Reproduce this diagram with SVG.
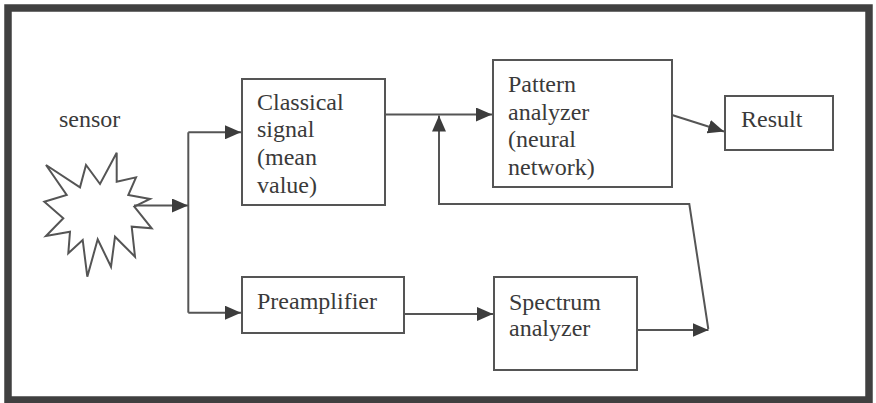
<svg xmlns="http://www.w3.org/2000/svg" width="876" height="403" viewBox="0 0 876 403">
<defs>
<marker id="ah" viewBox="0 0 16 14" refX="16" refY="7" markerWidth="16" markerHeight="14" markerUnits="userSpaceOnUse" orient="auto">
<path d="M0,0 L16,7 L0,14 Z" fill="#3c3c3c"/>
</marker>
</defs>
<style>
.box{fill:#fff;stroke:#555;stroke-width:2}
.t{font-family:"Liberation Serif","Times New Roman",serif;font-size:24px;fill:#3a3a3a}
.c{fill:none;stroke:#555;stroke-width:2}
</style>
<rect x="0" y="0" width="876" height="403" fill="#fff"/>
<rect id="frame" x="8" y="8" width="861" height="392" fill="#fff" stroke="#404040" stroke-width="7.5"/>
<g id="sensor">
<polygon class="box" points="46,165 80,187.3 86,165 100,184 116.7,152.7 116.7,181.7 136,177.3 128.3,195 150,199 134.3,206.7 151.7,228.3 131.7,226.7 135,256.7 115,236.7 111,266.7 97.7,239.3 87.3,276.7 82.7,240 68.3,253.3 70,231.7 46,236 63.3,218.3 44.3,201.7 66.7,195"/>
<text class="t" x="59" y="127">sensor</text>
</g>
<g id="classical">
<rect class="box" x="242" y="79" width="143" height="126"/>
<text class="t" x="257" y="109.5">Classical</text>
<text class="t" x="257" y="137.3">signal</text>
<text class="t" x="257" y="165">(mean</text>
<text class="t" x="257" y="192.7">value)</text>
</g>
<g id="pattern">
<rect class="box" x="493" y="60" width="179" height="127"/>
<text class="t" x="508" y="91.7">Pattern</text>
<text class="t" x="508" y="119.5">analyzer</text>
<text class="t" x="508" y="147.3">(neural</text>
<text class="t" x="508" y="175">network)</text>
</g>
<g id="result">
<rect class="box" x="725" y="96" width="108" height="54"/>
<text class="t" x="741" y="127">Result</text>
</g>
<g id="preamplifier">
<rect class="box" x="242" y="277" width="162" height="56"/>
<text class="t" x="257" y="309">Preamplifier</text>
</g>
<g id="spectrum">
<rect class="box" x="494" y="277" width="143" height="93"/>
<text class="t" x="509" y="310">Spectrum</text>
<text class="t" x="509" y="336">analyzer</text>
</g>
<g id="connectors">
<path class="c" d="M134,205.5 H188" marker-end="url(#ah)"/>
<path class="c" d="M188.3,132.3 V312.7"/>
<path class="c" d="M188.3,132.3 H241" marker-end="url(#ah)"/>
<path class="c" d="M188.3,312.7 H241" marker-end="url(#ah)"/>
<path class="c" d="M385,114.5 H492" marker-end="url(#ah)"/>
<path class="c" d="M672,115 L724,131.5" marker-end="url(#ah)"/>
<path class="c" d="M404,314 H493" marker-end="url(#ah)"/>
<path class="c" d="M637,330 H708.5" marker-end="url(#ah)"/>
<path class="c" d="M708.3,329 L689.3,204 H439 V115.5" marker-end="url(#ah)"/>
</g>
</svg>
